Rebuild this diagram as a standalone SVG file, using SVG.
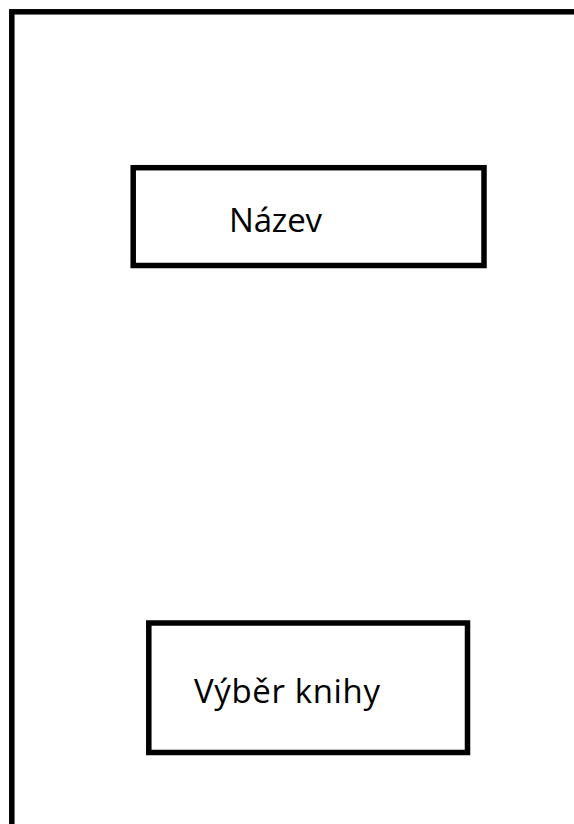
<svg xmlns="http://www.w3.org/2000/svg" width="574" height="824" viewBox="0 0 574 824">
<style>
.box{fill:none;stroke:#000;stroke-width:5.5}
.lbl{font-family:"Open Sans","Liberation Sans",sans-serif;font-size:33px;fill:#000}
</style>
<rect width="574" height="824" fill="#fff"/>
<g id="frame"><rect class="box" x="11.8" y="11.8" width="600" height="850"/></g>
<g id="connectors"></g>
<g id="nazev"><rect class="box" x="133.2" y="167.7" width="350.8" height="97.8"/><text class="lbl" x="229" y="232" textLength="93">Název</text></g>
<g id="vyber"><rect class="box" x="148.8" y="623" width="318.7" height="129.5"/><text class="lbl" x="194" y="703" textLength="186">Výběr knihy</text></g>
</svg>
